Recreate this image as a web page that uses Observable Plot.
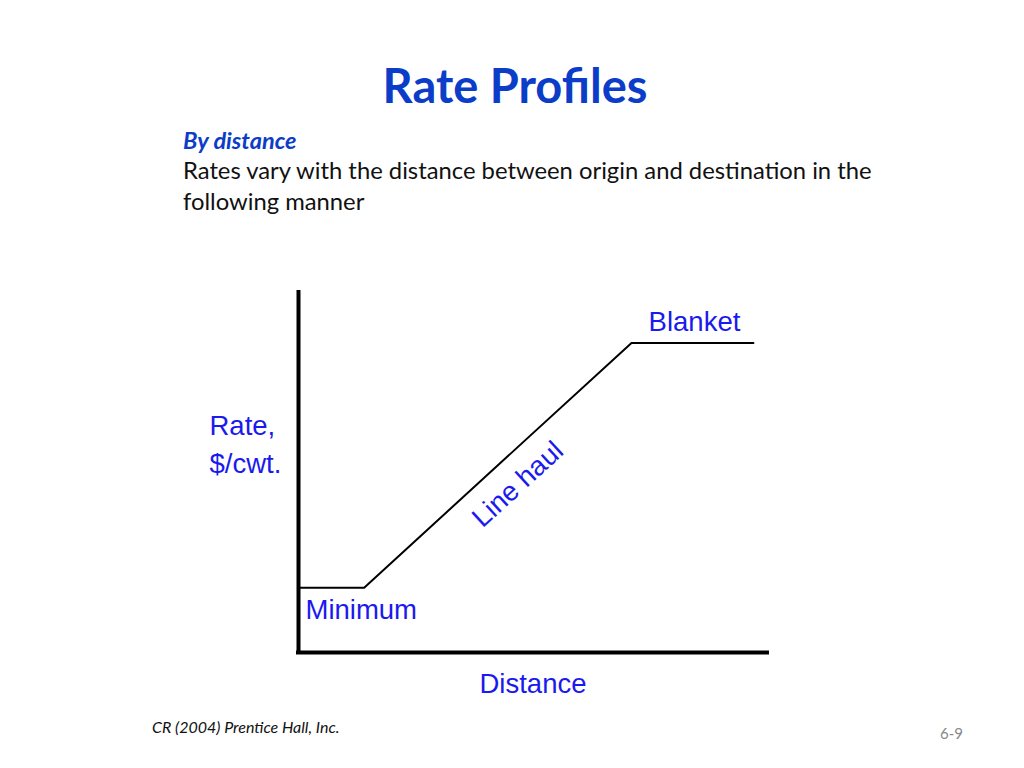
<!DOCTYPE html>
<html>
<head>
<meta charset="utf-8">
<script src="https://cdn.jsdelivr.net/npm/d3@7"></script>
<script src="https://cdn.jsdelivr.net/npm/@observablehq/plot@0.6"></script>
<style>
  html, body { margin: 0; padding: 0; background: #fff; }
  #page { position: relative; width: 1024px; height: 768px; overflow: hidden; font-family: Lato, "Open Sans", sans-serif; }
  .abs { position: absolute; white-space: nowrap; }
  #title { left: 0; width: 1024px; top: 55px; text-align: center; font-size: 47px; font-weight: 700; color: #0b3dc8; line-height: 60px; padding-left: 6px; box-sizing: border-box; }
  #sub { left: 183px; top: 126px; font-size: 23.5px; font-weight: 700; font-style: italic; color: #0b3dc8; }
  #body1 { left: 183px; top: 155px; font-size: 23.8px; color: #111; line-height: 31px; }
  #foot { left: 152px; top: 717px; font-size: 16px; font-style: italic; color: #111; }
  #pg { left: 940px; top: 724px; font-size: 15px; color: #888; }
  #chart { position: absolute; left: 0; top: 260px; }
</style>
</head>
<body>
<div id="page">
  <div class="abs" id="title">Rate Profiles</div>
  <div class="abs" id="sub">By distance</div>
  <div class="abs" id="body1">Rates vary with the distance between origin and destination in the<br>following manner</div>
  <div class="abs" id="foot">CR (2004) Prentice Hall, Inc.</div>
  <div class="abs" id="pg">6-9</div>
  <div id="chart"></div>
</div>
<script>
// Rate profile breakpoints (abstract units)
const distance = [0, 1.4, 7.1, 9.7];
const rate = [1.8, 1.8, 8.6, 8.6];
const segmentNames = ["Minimum", "Line haul", "Blanket"];
const xAxisLabel = "Distance";
const yAxisLabel = "Rate,\n$/cwt.";

const profile = distance.map((d, i) => ({distance: d, rate: rate[i]}));
const blue = "#1a1aee";
const font = "Liberation Sans, Arial, sans-serif";
const fs = 27.5;

const minimumLabel = [{distance: distance[0], rate: rate[0], name: segmentNames[0]}];
const haulLabel = [{distance: (distance[1] + distance[2]) / 2, rate: (rate[1] + rate[2]) / 2, name: segmentNames[1]}];
const blanketLabel = [{distance: (distance[2] + distance[3]) / 2, rate: rate[2], name: segmentNames[2]}];

// slope angle of line-haul segment in screen space
const W = 1024, H = 450;
const mL = 298, mR = 257, mT = 32, mB = 58;
const sx = (W - mL - mR) / 10, sy = (H - mT - mB) / 10;
const angle = -Math.atan2((rate[2] - rate[1]) * sy, (distance[2] - distance[1]) * sx) * 180 / Math.PI;

const chart = Plot.plot({
  width: W,
  height: H,
  marginLeft: mL,
  marginRight: mR,
  marginTop: mT,
  marginBottom: mB,
  x: {domain: [0, 10], axis: null},
  y: {domain: [0, 10], axis: null},
  style: {background: "transparent", fontFamily: font},
  marks: [
    Plot.line(profile, {x: "distance", y: "rate", stroke: "#000", strokeWidth: 2}),
    Plot.ruleX([0], {stroke: "#000", strokeWidth: 4, strokeLinecap: "square"}),
    Plot.ruleY([0], {stroke: "#000", strokeWidth: 4, strokeLinecap: "square"}),
    Plot.text(blanketLabel, {x: "distance", y: "rate", text: "name", dy: -21, dx: 2, fill: blue, fontSize: fs, fontFamily: font}),
    Plot.text(minimumLabel, {x: "distance", y: "rate", text: "name", textAnchor: "start", dx: 7, dy: 22, fill: blue, fontSize: fs, fontFamily: font}),
    Plot.text(haulLabel, {x: "distance", y: "rate", text: "name", rotate: angle, dx: 20, dy: 19, fill: blue, fontSize: fs, fontFamily: font}),
    Plot.text([xAxisLabel], {frameAnchor: "bottom", text: d => d, dy: 40, fill: blue, fontSize: fs, fontFamily: font}),
    Plot.text([yAxisLabel], {frameAnchor: "left", text: d => d, textAnchor: "start", dx: -89, dy: -31, lineHeight: 1.38, fill: blue, fontSize: fs, fontFamily: font})
  ]
});
document.getElementById("chart").appendChild(chart);
</script>
</body>
</html>
